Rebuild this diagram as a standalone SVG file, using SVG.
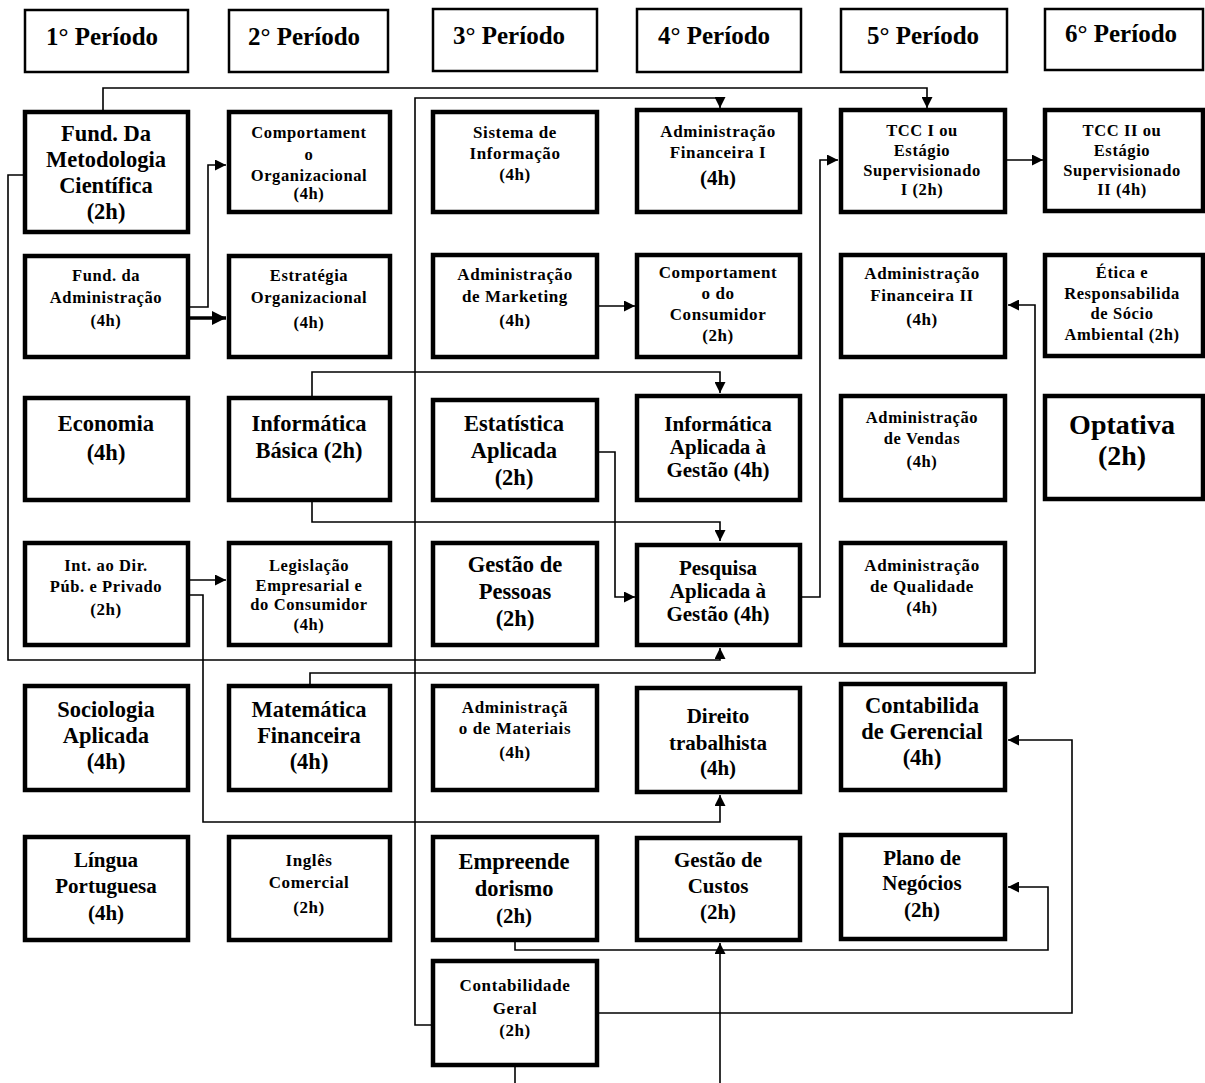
<svg xmlns="http://www.w3.org/2000/svg" width="1205" height="1083" viewBox="0 0 1205 1083">
<defs>
<style>
text{font-family:"Liberation Serif","Times New Roman",serif;font-weight:bold;text-anchor:middle;fill:#000}
.hdr rect{fill:#fff;stroke:#000;stroke-width:2.5}
.hdr text{font-size:25px}
.node rect{fill:#fff;stroke:#000;stroke-width:4.5}
.s14{font-size:16.5px;letter-spacing:0.6px}
.s15{font-size:17px;letter-spacing:0.6px}
.s18{font-size:21px}
.s19{font-size:21px}
.s20{font-size:22.5px}
.s24{font-size:28px}
.conn path{fill:none;stroke:#000;stroke-width:1.6}
.conn .thick{stroke-width:3.5}
</style>
<marker id="arr" viewBox="0 0 10 10" refX="10" refY="5" markerWidth="11" markerHeight="11" markerUnits="userSpaceOnUse" orient="auto">
<path d="M0,0 L10,5 L0,10 z" fill="#000"/>
</marker>
<marker id="arrT" viewBox="0 0 10 10" refX="10" refY="5" markerWidth="4" markerHeight="4" orient="auto">
<path d="M0,0 L10,5 L0,10 z" fill="#000"/>
</marker>
</defs>
<rect width="1205" height="1083" fill="#fff"/>

<g id="headers">
<g id="h1" class="hdr"><rect x="25" y="10" width="163" height="62"/><text x="102" y="45">1° Período</text></g>
<g id="h2" class="hdr"><rect x="229" y="10" width="159" height="62"/><text x="304" y="45">2° Período</text></g>
<g id="h3" class="hdr"><rect x="433" y="9" width="164" height="62"/><text x="509" y="44">3° Período</text></g>
<g id="h4" class="hdr"><rect x="637" y="9" width="164" height="63"/><text x="714" y="44">4° Período</text></g>
<g id="h5" class="hdr"><rect x="841" y="9" width="166" height="63"/><text x="923" y="44">5° Período</text></g>
<g id="h6" class="hdr"><rect x="1045" y="9" width="158" height="61"/><text x="1121" y="42">6° Período</text></g>
</g>

<g id="connectors" class="conn">
<path d="M103,112 V88 H927 V108" marker-end="url(#arr)"/>
<path d="M433,1025 H415 V98 H720 V108" marker-end="url(#arr)"/>
<path d="M25,175 H8 V660 H720 V648" marker-end="url(#arr)"/>
<path d="M188,307 H208 V165 H226" marker-end="url(#arr)"/>
<path class="thick" d="M188,318 H226" marker-end="url(#arrT)"/>
<path d="M597,306 H635" marker-end="url(#arr)"/>
<path d="M312,397 V372 H720 V393" marker-end="url(#arr)"/>
<path d="M312,500 V522 H720 V541" marker-end="url(#arr)"/>
<path d="M597,452 H615 V597 H635" marker-end="url(#arr)"/>
<path d="M800,597 H820 V160 H838" marker-end="url(#arr)"/>
<path d="M1005,160 H1043" marker-end="url(#arr)"/>
<path d="M310,685 V673 H1035 V305 H1008" marker-end="url(#arr)"/>
<path d="M188,580 H226" marker-end="url(#arr)"/>
<path d="M188,595 H203 V822 H720 V795" marker-end="url(#arr)"/>
<path d="M515,940 V950 H1048 V887 H1008" marker-end="url(#arr)"/>
<path d="M597,1013 H1072 V740 H1008" marker-end="url(#arr)"/>
<path d="M515,1065 V1083"/>
<path d="M720,1083 V943" marker-end="url(#arr)"/>
</g>

<g id="n_fundmet" class="node"><rect x="25" y="112" width="163" height="120"/>
<text class="s20" x="106" y="141">Fund. Da</text><text class="s20" x="106" y="167">Metodologia</text><text class="s20" x="106" y="193">Científica</text><text class="s20" x="106" y="219">(2h)</text></g>
<g id="n_comporg" class="node"><rect x="229" y="112" width="161" height="100"/>
<text class="s14" x="309" y="138">Comportament</text><text class="s14" x="309" y="160">o</text><text class="s14" x="309" y="181">Organizacional</text><text class="s14" x="309" y="199">(4h)</text></g>
<g id="n_sist" class="node"><rect x="433" y="112" width="164" height="100"/>
<text class="s15" x="515" y="138">Sistema de</text><text class="s15" x="515" y="159">Informação</text><text class="s15" x="515" y="180">(4h)</text></g>
<g id="n_admfin1" class="node"><rect x="637" y="110" width="163" height="102"/>
<text class="s15" x="718" y="137">Administração</text><text class="s15" x="718" y="158">Financeira I</text><text class="s18" x="718" y="185">(4h)</text></g>
<g id="n_tcc1" class="node"><rect x="841" y="110" width="164" height="102"/>
<text class="s14" x="922" y="136">TCC I ou</text><text class="s14" x="922" y="156">Estágio</text><text class="s14" x="922" y="176">Supervisionado</text><text class="s14" x="922" y="195">I (2h)</text></g>
<g id="n_tcc2" class="node"><rect x="1045" y="110" width="158" height="101"/>
<text class="s14" x="1122" y="136">TCC II ou</text><text class="s14" x="1122" y="156">Estágio</text><text class="s14" x="1122" y="176">Supervisionado</text><text class="s14" x="1122" y="195">II (4h)</text></g>

<g id="n_fundadm" class="node"><rect x="25" y="256" width="163" height="101"/>
<text class="s14" x="106" y="281">Fund. da</text><text class="s14" x="106" y="303">Administração</text><text class="s14" x="106" y="326">(4h)</text></g>
<g id="n_estrat" class="node"><rect x="229" y="256" width="161" height="101"/>
<text class="s14" x="309" y="281">Estratégia</text><text class="s14" x="309" y="303">Organizacional</text><text class="s14" x="309" y="328">(4h)</text></g>
<g id="n_mkt" class="node"><rect x="433" y="255" width="164" height="102"/>
<text class="s15" x="515" y="280">Administração</text><text class="s15" x="515" y="302">de Marketing</text><text class="s15" x="515" y="326">(4h)</text></g>
<g id="n_compcons" class="node"><rect x="637" y="255" width="163" height="102"/>
<text class="s15" x="718" y="278">Comportament</text><text class="s15" x="718" y="299">o do</text><text class="s15" x="718" y="320">Consumidor</text><text class="s15" x="718" y="341">(2h)</text></g>
<g id="n_admfin2" class="node"><rect x="841" y="255" width="164" height="102"/>
<text class="s15" x="922" y="279">Administração</text><text class="s15" x="922" y="301">Financeira II</text><text class="s15" x="922" y="325">(4h)</text></g>
<g id="n_etica" class="node"><rect x="1045" y="255" width="158" height="101"/>
<text class="s14" x="1122" y="278">Ética e</text><text class="s14" x="1122" y="299">Responsabilida</text><text class="s14" x="1122" y="319">de Sócio</text><text class="s14" x="1122" y="340">Ambiental (2h)</text></g>

<g id="n_econ" class="node"><rect x="25" y="398" width="163" height="102"/>
<text class="s20" x="106" y="431">Economia</text><text class="s20" x="106" y="460">(4h)</text></g>
<g id="n_infobas" class="node"><rect x="229" y="398" width="161" height="102"/>
<text class="s20" x="309" y="431">Informática</text><text class="s20" x="309" y="458">Básica (2h)</text></g>
<g id="n_estat" class="node"><rect x="433" y="400" width="164" height="100"/>
<text class="s20" x="514" y="431">Estatística</text><text class="s20" x="514" y="458">Aplicada</text><text class="s20" x="514" y="485">(2h)</text></g>
<g id="n_infoapl" class="node"><rect x="637" y="396" width="163" height="104"/>
<text class="s18" x="718" y="431">Informática</text><text class="s18" x="718" y="454">Aplicada à</text><text class="s18" x="718" y="477">Gestão (4h)</text></g>
<g id="n_vendas" class="node"><rect x="841" y="396" width="164" height="104"/>
<text class="s14" x="922" y="423">Administração</text><text class="s14" x="922" y="444">de Vendas</text><text class="s14" x="922" y="467">(4h)</text></g>
<g id="n_optativa" class="node"><rect x="1045" y="396" width="158" height="103"/>
<text class="s24" x="1122" y="434">Optativa</text><text class="s24" x="1122" y="465">(2h)</text></g>

<g id="n_intdir" class="node"><rect x="25" y="543" width="163" height="102"/>
<text class="s14" x="106" y="571">Int. ao Dir.</text><text class="s14" x="106" y="592">Púb. e Privado</text><text class="s15" x="106" y="615">(2h)</text></g>
<g id="n_legis" class="node"><rect x="229" y="543" width="161" height="102"/>
<text class="s14" x="309" y="571">Legislação</text><text class="s14" x="309" y="591">Empresarial e</text><text class="s14" x="309" y="610">do Consumidor</text><text class="s14" x="309" y="630">(4h)</text></g>
<g id="n_gestpes" class="node"><rect x="433" y="543" width="164" height="102"/>
<text class="s20" x="515" y="572">Gestão de</text><text class="s20" x="515" y="599">Pessoas</text><text class="s20" x="515" y="626">(2h)</text></g>
<g id="n_pesq" class="node"><rect x="637" y="545" width="163" height="100"/>
<text class="s18" x="718" y="575">Pesquisa</text><text class="s18" x="718" y="598">Aplicada à</text><text class="s18" x="718" y="621">Gestão (4h)</text></g>
<g id="n_qual" class="node"><rect x="841" y="543" width="164" height="102"/>
<text class="s15" x="922" y="571">Administração</text><text class="s15" x="922" y="592">de Qualidade</text><text class="s15" x="922" y="613">(4h)</text></g>

<g id="n_socio" class="node"><rect x="25" y="686" width="163" height="104"/>
<text class="s20" x="106" y="717">Sociologia</text><text class="s20" x="106" y="743">Aplicada</text><text class="s20" x="106" y="769">(4h)</text></g>
<g id="n_matfin" class="node"><rect x="229" y="686" width="161" height="104"/>
<text class="s20" x="309" y="717">Matemática</text><text class="s20" x="309" y="743">Financeira</text><text class="s20" x="309" y="769">(4h)</text></g>
<g id="n_admmat" class="node"><rect x="433" y="686" width="164" height="104"/>
<text class="s15" x="515" y="713">Administraçã</text><text class="s15" x="515" y="734">o de Materiais</text><text class="s15" x="515" y="758">(4h)</text></g>
<g id="n_direito" class="node"><rect x="637" y="688" width="163" height="104"/>
<text class="s19" x="718" y="723">Direito</text><text class="s19" x="718" y="750">trabalhista</text><text class="s19" x="718" y="775">(4h)</text></g>
<g id="n_contger" class="node"><rect x="841" y="684" width="164" height="106"/>
<text class="s20" x="922" y="713">Contabilida</text><text class="s20" x="922" y="739">de Gerencial</text><text class="s20" x="922" y="765">(4h)</text></g>

<g id="n_lingua" class="node"><rect x="25" y="837" width="163" height="103"/>
<text class="s19" x="106" y="867">Língua</text><text class="s19" x="106" y="893">Portuguesa</text><text class="s19" x="106" y="920">(4h)</text></g>
<g id="n_ingles" class="node"><rect x="229" y="837" width="161" height="103"/>
<text class="s15" x="309" y="866">Inglês</text><text class="s15" x="309" y="888">Comercial</text><text class="s15" x="309" y="913">(2h)</text></g>
<g id="n_empre" class="node"><rect x="433" y="837" width="164" height="103"/>
<text class="s20" x="514" y="869">Empreende</text><text class="s20" x="514" y="896">dorismo</text><text class="s19" x="514" y="923">(2h)</text></g>
<g id="n_custos" class="node"><rect x="637" y="838" width="163" height="102"/>
<text class="s19" x="718" y="867">Gestão de</text><text class="s19" x="718" y="893">Custos</text><text class="s19" x="718" y="919">(2h)</text></g>
<g id="n_plano" class="node"><rect x="841" y="835" width="164" height="104"/>
<text class="s19" x="922" y="865">Plano de</text><text class="s19" x="922" y="890">Negócios</text><text class="s19" x="922" y="917">(2h)</text></g>

<g id="n_contgeral" class="node"><rect x="433" y="961" width="164" height="104"/>
<text class="s15" x="515" y="991">Contabilidade</text><text class="s15" x="515" y="1014">Geral</text><text class="s15" x="515" y="1036">(2h)</text></g>
</svg>
